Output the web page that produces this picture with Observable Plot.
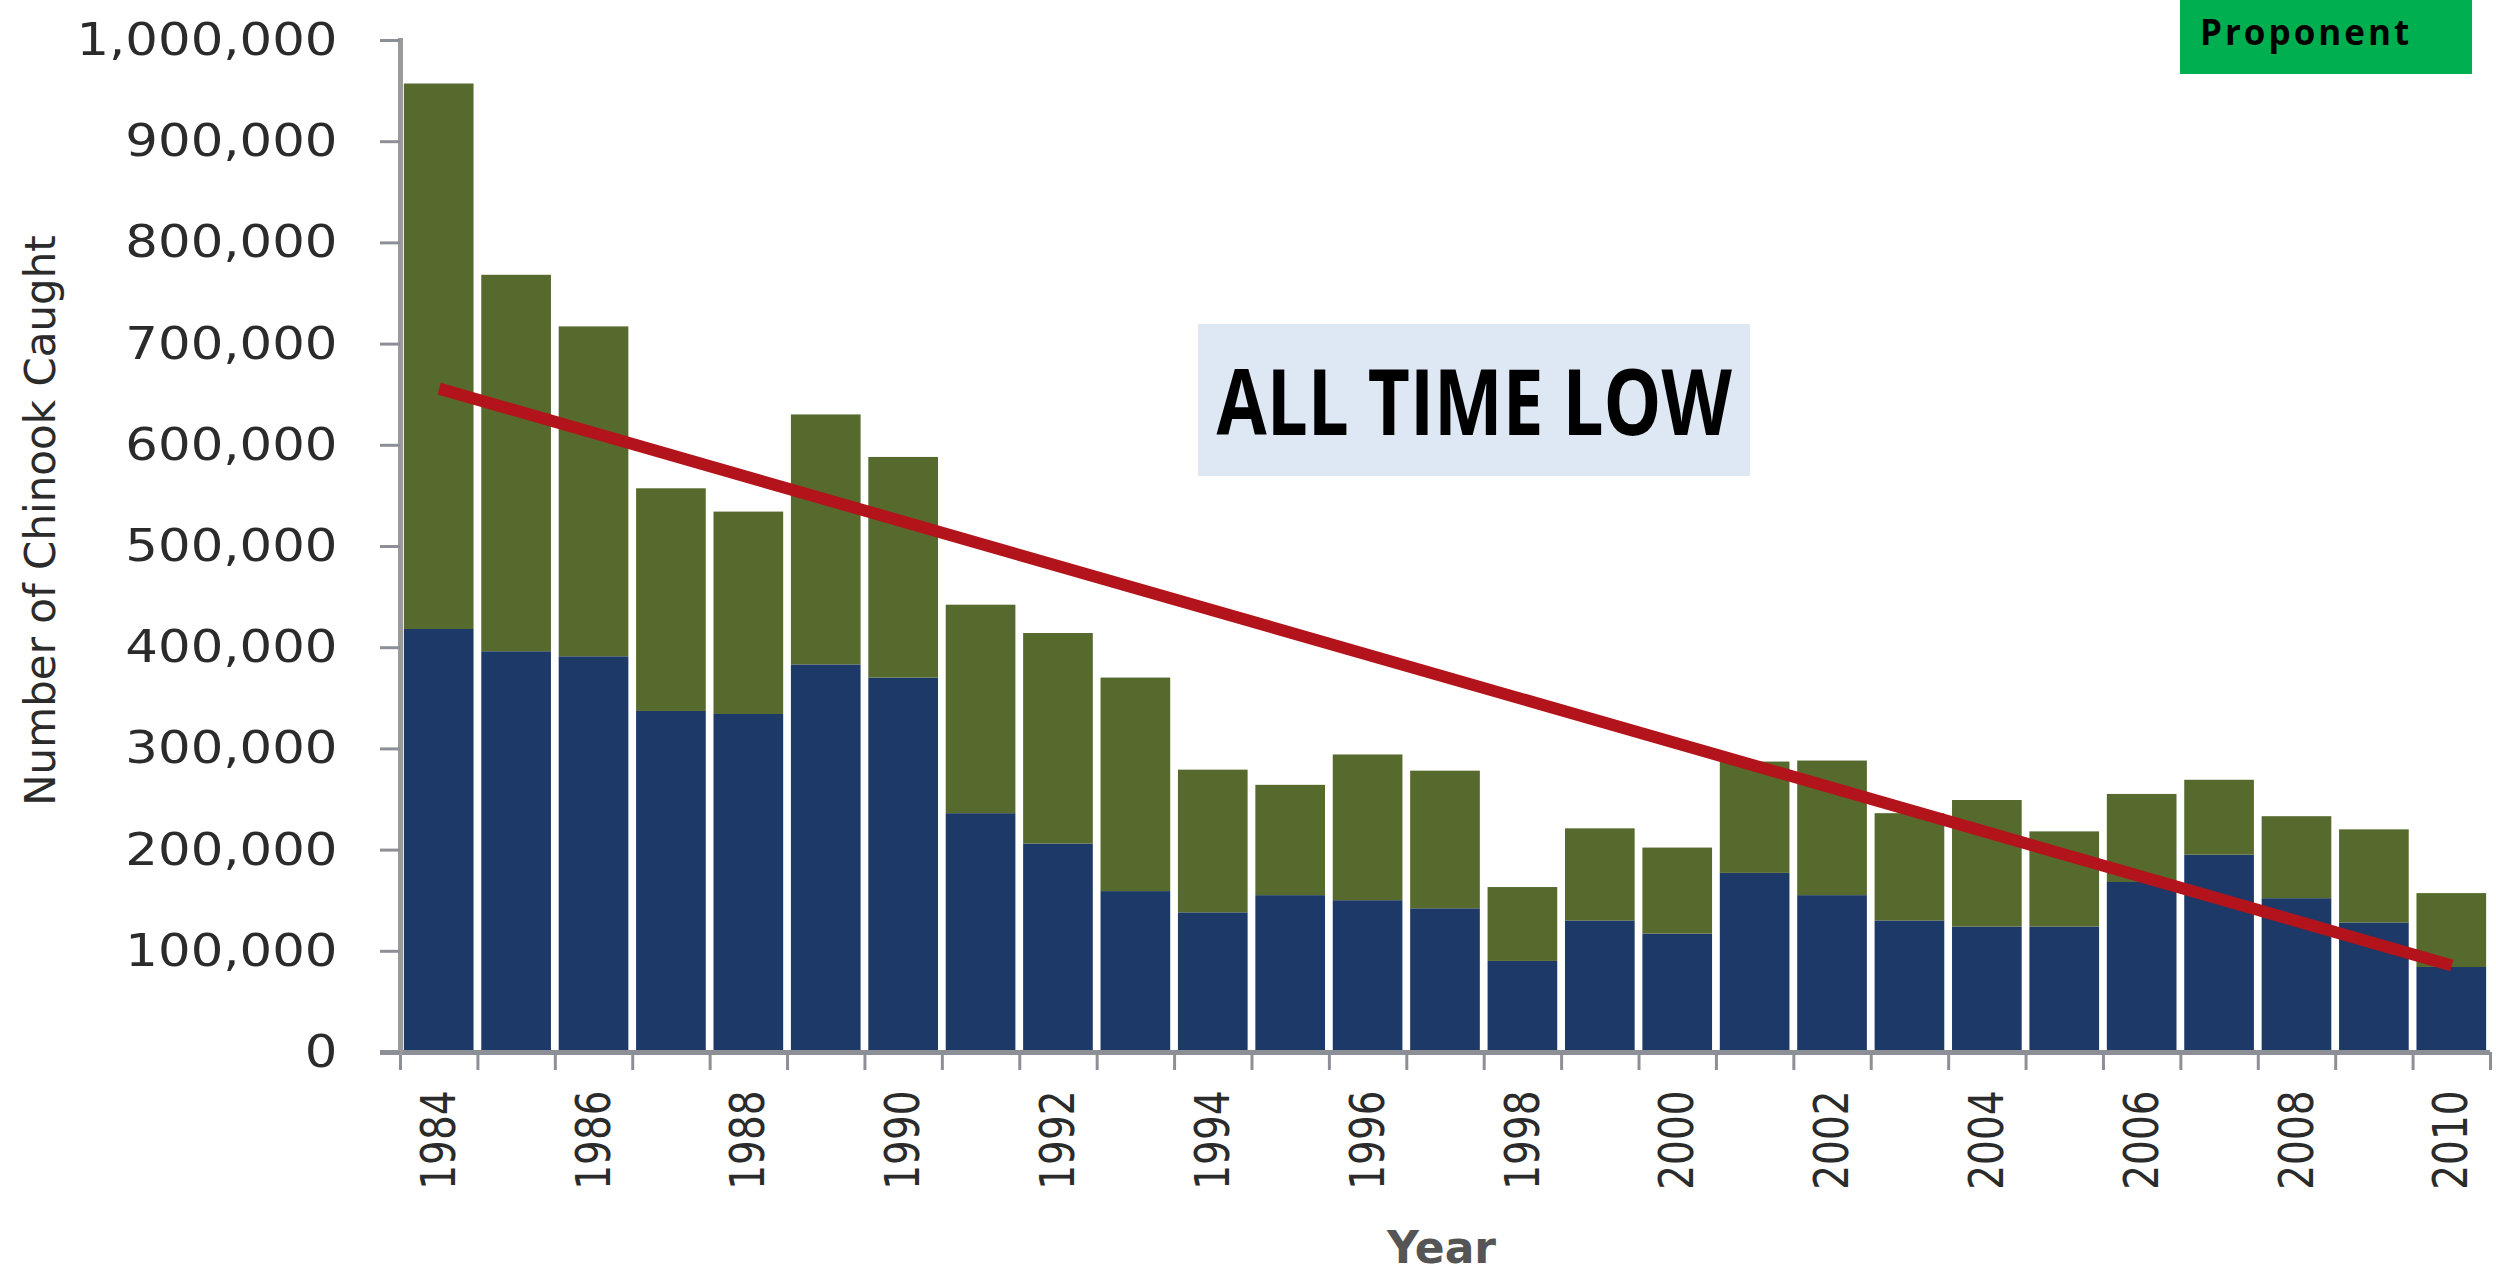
<!DOCTYPE html>
<html>
<head>
<meta charset="utf-8">
<script src="https://cdn.jsdelivr.net/npm/d3@7"></script>
<script src="https://cdn.jsdelivr.net/npm/@observablehq/plot@0.6"></script>
<style>
  html, body { margin: 0; padding: 0; background: #fff; overflow: hidden; }
  #chart { position: relative; width: 2496px; height: 1275px; }
  #chart svg { position: absolute; left: 0; top: 0; }
  .note { position: absolute; box-sizing: border-box; }
  #low {
    left: 1198px; top: 324px; width: 552px; height: 152px;
    background: #dde8f4;
    display: flex; align-items: center; justify-content: center;
  }
  #low span {
    font-family: "Open Sans", sans-serif; font-weight: 700; font-size: 91px;
    line-height: 1; color: #000; white-space: nowrap;
    transform: scaleX(0.8);
  }
  #tag { left: 2180px; top: 0; width: 292px; height: 74px; background: #00b050; }
  #tag span {
    position: absolute; left: 20px; top: 14px;
    font-family: "Open Sans", sans-serif; font-weight: 700; font-size: 35px;
    line-height: 1; letter-spacing: 3px; color: #000; white-space: nowrap;
  }
</style>
</head>
<body>
<div id="chart">
  <div class="note" id="tag"><span>Proponent</span></div>
  <div class="note" id="low"><span>ALL TIME LOW</span></div>
</div>
<script>
// Chinook catch per year, split into the navy (lower) and olive (upper) segments
const years = [1984, 1985, 1986, 1987, 1988, 1989, 1990, 1991, 1992, 1993, 1994, 1995, 1996, 1997,
               1998, 1999, 2000, 2001, 2002, 2003, 2004, 2005, 2006, 2007, 2008, 2009, 2010];
const lowerCatch = [418000, 396000, 391000, 337000, 334000, 383000, 370000, 236000, 206000, 159000,
                    138000, 155000, 150000, 142000, 90000, 130000, 117000, 177000, 155000, 130000,
                    124000, 124000, 168000, 195000, 152000, 128000, 84000];
const upperCatch = [539000, 372000, 326000, 220000, 200000, 247000, 218000, 206000, 208000, 211000,
                    141000, 109000, 144000, 136000, 73000, 91000, 85000, 110000, 133000, 106000,
                    125000, 94000, 87000, 74000, 81000, 92000, 73000];

// Straight trend line drawn across the bars
const trendYears = [1984, 2010];
const trendValues = [656000, 86000];

// Axis ticks and labels
const yTicks = [0, 100000, 200000, 300000, 400000, 500000, 600000, 700000, 800000, 900000, 1000000];
const xTickYears = [1984, 1986, 1988, 1990, 1992, 1994, 1996, 1998, 2000, 2002, 2004, 2006, 2008, 2010];
const yTitle = "Number of Chinook Caught";
const xTitle = "Year";

const segments = ["lower", "upper"];
const segmentColors = ["#1c3968", "#556a2c"];

const rows = years.flatMap((year, i) => [
  {year, part: "lower", value: lowerCatch[i]},
  {year, part: "upper", value: upperCatch[i]}
]);
const trend = trendYears.map((year, i) => ({year, value: trendValues[i]}));

const W = 2496, H = 1275;
const margins = {marginLeft: 400, marginRight: 6, marginTop: 40, marginBottom: 223};
const frameHeight = H - margins.marginTop - margins.marginBottom;
const xOpts = {type: "band", domain: years, paddingInner: 0.1, paddingOuter: 0.05, round: false};
const yOpts = {domain: [0, 1000000]};

// First pass: read the band geometry so ticks can sit on the band boundaries
const probe = Plot.plot({width: W, height: H, ...margins, x: xOpts, y: yOpts,
  marks: [Plot.barY(rows, {x: "year", y: "value"})]});
const xs = probe.scale("x");
const bw = xs.bandwidth;
const step = xs.step ?? bw / 0.9;
const leftEdgeDx = margins.marginLeft - (xs.apply(years[0]) + bw / 2);

const axisGrey = "#8c9096";

const svg = Plot.plot({
  width: W,
  height: H,
  ...margins,
  style: {background: "transparent", color: "#2b2b2b", fontFamily: "DejaVu Sans, sans-serif"},
  x: {...xOpts, label: null},
  y: {...yOpts, label: null},
  color: {domain: segments, range: segmentColors},
  marks: [
    Plot.barY(rows, {x: "year", y: "value", fill: "part"}),
    // category boundary ticks below the baseline
    Plot.ruleX(years, {x: d => d, dx: -step / 2, insetTop: frameHeight, insetBottom: -18,
                       stroke: axisGrey, strokeWidth: 3}),
    Plot.ruleX(years.slice(-1), {x: d => d, dx: step / 2, insetTop: frameHeight, insetBottom: -18,
                                 stroke: axisGrey, strokeWidth: 3}),
    // baseline and vertical axis line
    Plot.ruleY([0], {insetLeft: -20, stroke: axisGrey, strokeWidth: 5}),
    Plot.ruleX(years.slice(0, 1), {x: d => d, dx: leftEdgeDx, insetTop: -2, insetBottom: -3,
                                   stroke: "#9a9a9a", strokeWidth: 5}),
    // trend
    Plot.line(trend, {x: "year", y: "value", stroke: "#b3141c", strokeWidth: 12, strokeLinecap: "butt"}),
    Plot.axisY({ticks: yTicks, tickFormat: d3.format(","), tickSize: 20, tickPadding: 43,
                fontSize: 45, label: null}),
    Plot.axisX({ticks: xTickYears, tickFormat: d => `${d}`, tickRotate: -90, tickSize: 0,
                tickPadding: 38, fontSize: 39, label: null}),
    Plot.text([yTitle], {frameAnchor: "left", textAnchor: "middle", rotate: -90, dx: -359, dy: -26,
                         fontSize: 42, fill: "#2b2b2b", ariaLabel: "y title"}),
    Plot.text([xTitle], {frameAnchor: "bottom", lineAnchor: "bottom", dx: -4, dy: 210,
                         fontSize: 44, fontWeight: "bold", fill: "#555"})
  ]
});

// Tick styling and the wide letterforms of the axis text
svg.querySelectorAll('[aria-label="y-axis tick"] path, [aria-label="y-axis tick"] line').forEach(p => {
  p.setAttribute("stroke", axisGrey);
  p.setAttribute("stroke-width", 3);
});
// stretch a text about its anchor point (its local origin) by appending to its transform
function stretch(t, sx, sy) {
  const tr = t.getAttribute("transform");
  if (tr) {
    t.setAttribute("transform", `${tr} scale(${sx},${sy})`);
  } else {
    const x = +t.getAttribute("x") || 0, y = +t.getAttribute("y") || 0;
    t.setAttribute("transform", `translate(${x},${y}) scale(${sx},${sy})`);
    t.removeAttribute("x");
    t.removeAttribute("y");
  }
}
svg.querySelectorAll('[aria-label="y-axis tick label"] text').forEach(t => stretch(t, 1.14, 1));
svg.querySelectorAll('[aria-label="x-axis tick label"] text').forEach(t => stretch(t, 1, 1.25));
svg.querySelectorAll('[aria-label="y title"] text').forEach(t => stretch(t, 1, 1.15));

document.getElementById("chart").prepend(svg);
</script>
</body>
</html>
